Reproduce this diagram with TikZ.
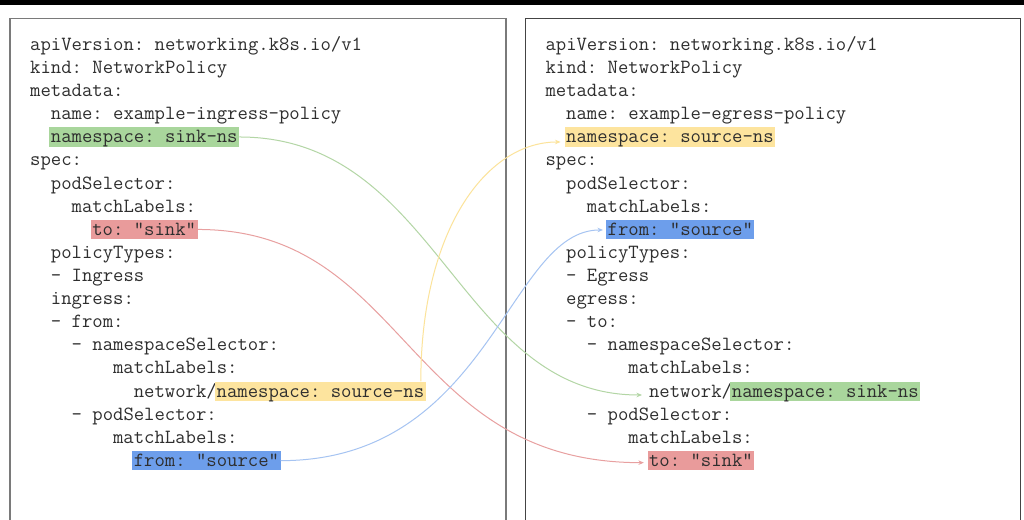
\documentclass[tikz,border=0pt]{standalone}
\usepackage{fontspec}
\usetikzlibrary{arrows.meta}
\definecolor{txt}{HTML}{2E2E2E}
\definecolor{boxL}{HTML}{7A7A7A}
\definecolor{boxR}{HTML}{444444}
\definecolor{hlgreen}{HTML}{A9D69C}
\definecolor{hlred}{HTML}{E99B9B}
\definecolor{hlyellow}{HTML}{FDE49E}
\definecolor{hlblue}{HTML}{6D9EEB}
\definecolor{lngreen}{HTML}{B3D6A5}
\definecolor{lnred}{HTML}{E8A0A0}
\definecolor{lnyellow}{HTML}{FCE39A}
\definecolor{lnblue}{HTML}{A6C4F2}
\begin{document}
\begin{tikzpicture}[x=1pt,y=-1pt,
  ln/.style={anchor=base west, inner sep=0pt, text height=14pt, text depth=4pt, text=txt,
    font=\ttfamily\fontsize{20.14pt}{22pt}\selectfont\addfontfeatures{FakeBold=0.6}\frenchspacing},
  hl/.style={ln, inner xsep=1.5pt, inner ysep=0pt, text height=15.6pt, text depth=4pt, fill=#1},
  conn/.style={draw=#1, line width=1pt, -{Stealth[length=5.5pt,width=4.5pt]}},
]
\useasboundingbox (0,0) rectangle (1024,519);
\clip (0,0) rectangle (1024,519);
\fill[white] (0,0) rectangle (1024,519);
\fill[black] (0,0) rectangle (1024,5);
\draw[line width=1.5pt, draw=boxL] (10,18.3) rectangle (506,545);
\draw[line width=1.5pt, draw=boxR] (525.5,18.3) rectangle (1020.3,545);

% left column
\node[ln] (l0) at (30,50.3) {apiVersion: networking.k8s.io/v1};
\node[ln] (l1) at (30,73.42) {kind: NetworkPolicy};
\node[ln] (l2) at (30,96.54) {metadata:};
\node[ln] (l3) at (50.72,119.66) {name: example-ingress-policy};
\node[hl=hlgreen] (l4) at (49.22,142.78) {namespace: sink-ns};
\node[ln] (l5) at (30,165.9) {spec:};
\node[ln] (l6) at (50.72,189.02) {podSelector:};
\node[ln] (l7) at (71.44,212.14) {matchLabels:};
\node[hl=hlred] (l8) at (90.66,235.26) {to: "sink"};
\node[ln] (l9) at (50.72,258.38) {policyTypes:};
\node[ln] (l10) at (50.72,281.5) {- Ingress};
\node[ln] (l11) at (50.72,304.62) {ingress:};
\node[ln] (l12) at (50.72,327.74) {- from:};
\node[ln] (l13) at (71.44,350.86) {- namespaceSelector:};
\node[ln] (l14) at (112.88,373.98) {matchLabels:};
\node[ln] (l15) at (133.6,397.1) {network/};
\node[hl=hlyellow] (l15h) at (214.98,397.1) {namespace: source-ns};
\node[ln] (l16) at (71.44,420.22) {- podSelector:};
\node[ln] (l17) at (112.88,443.34) {matchLabels:};
\node[hl=hlblue] (l18) at (132.1,466.46) {from: "source"};

% right column
\node[ln] (r0) at (545.3,50.3) {apiVersion: networking.k8s.io/v1};
\node[ln] (r1) at (545.3,73.42) {kind: NetworkPolicy};
\node[ln] (r2) at (545.3,96.54) {metadata:};
\node[ln] (r3) at (566.02,119.66) {name: example-egress-policy};
\node[hl=hlyellow] (r4) at (564.52,142.78) {namespace: source-ns};
\node[ln] (r5) at (545.3,165.9) {spec:};
\node[ln] (r6) at (566.02,189.02) {podSelector:};
\node[ln] (r7) at (586.74,212.14) {matchLabels:};
\node[hl=hlblue] (r8) at (605.96,235.26) {from: "source"};
\node[ln] (r9) at (566.02,258.38) {policyTypes:};
\node[ln] (r10) at (566.02,281.5) {- Egress};
\node[ln] (r11) at (566.02,304.62) {egress:};
\node[ln] (r12) at (566.02,327.74) {- to:};
\node[ln] (r13) at (586.74,350.86) {- namespaceSelector:};
\node[ln] (r14) at (628.18,373.98) {matchLabels:};
\node[ln] (r15) at (648.9,397.1) {network/};
\node[hl=hlgreen] (r15h) at (730.28,397.1) {namespace: sink-ns};
\node[ln] (r16) at (586.74,420.22) {- podSelector:};
\node[ln] (r17) at (628.18,443.34) {matchLabels:};
\node[hl=hlred] (r18) at (647.4,466.46) {to: "sink"};

% connectors
\draw[conn=lngreen] (l4.east) .. controls +(200,0) and +(-185,0) .. ([shift={(-6.9,2.9)}]r15.west);
\draw[conn=lnred] (l8.east) .. controls +(210,0) and +(-240,0) .. ([shift={(-3.5,2)}]r18.west);
\draw[conn=lnyellow] ([xshift=-5pt]l15h.north east) .. controls +(0,-150) and +(-75,0) .. ([shift={(-4,5)}]r4.west);
\draw[conn=lnblue] (l18.east) .. controls +(210,0) and +(-95,0) .. ([shift={(-3,0.5)}]r8.west);
\end{tikzpicture}
\end{document}
